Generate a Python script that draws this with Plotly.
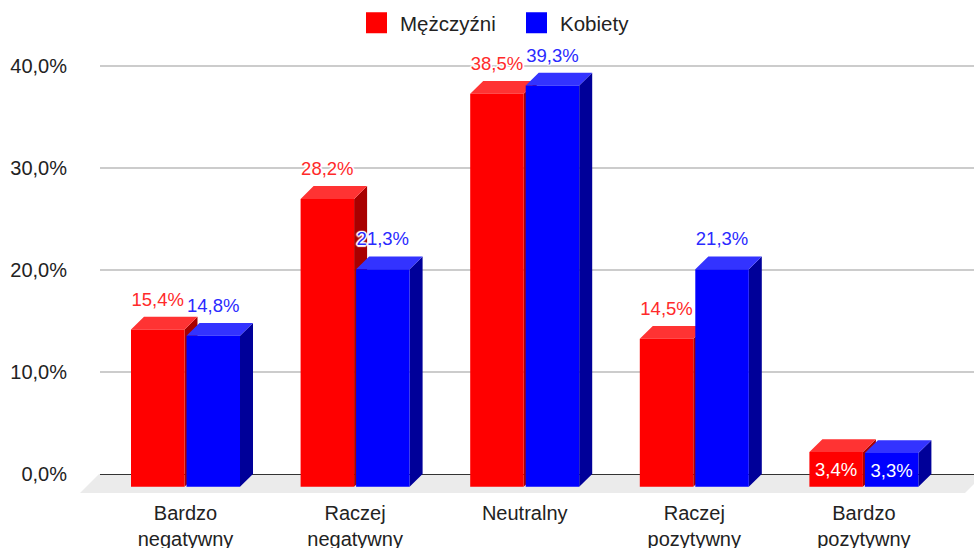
import plotly.graph_objects as go

categories = ["Bardzo<br>negatywny", "Raczej<br>negatywny", "Neutralny", "Raczej<br>pozytywny", "Bardzo<br>pozytywny"]
men = [15.4, 28.2, 38.5, 14.5, 3.4]
women = [14.8, 21.3, 39.3, 21.3, 3.3]
series_names = ["Mężczyźni", "Kobiety"]
y_ticks = [0, 10, 20, 30, 40]
y_tick_labels = ["0,0%", "10,0%", "20,0%", "30,0%", "40,0%"]

W, H = 974, 548
L, R, T, B = 100, 974, 40, 494
PX_Y = 10.21          # pixels per percentage point
PX_X = 169.6          # pixels per category
Y0 = 474
X0 = 185.5
yr = [-(B - Y0) / PX_Y, (Y0 - T) / PX_Y]
xr = [(L - X0) / PX_X, (R - X0) / PX_X]
dx = 13 / PX_X
dy = 12.8 / PX_Y
bw = 53.5 / PX_X
gap = 1.0 / PX_X
FONT = "Liberation Sans, Arial, sans-serif"


def faces(values, offset):
    side_x, side_y, top_x, top_y = [], [], [], []
    for i, v in enumerate(values):
        x0 = i + offset
        x1 = x0 + bw
        t = v - dy
        side_x += [x1, x1 + dx, x1 + dx, x1, x1, None]
        side_y += [-dy, 0, v, t, -dy, None]
        top_x += [x0, x0 + dx, x1 + dx, x1, x0, None]
        top_y += [t, v, v, t, t, None]
    return side_x, side_y, top_x, top_y


def px(x):
    return (x - L) / (R - L)


def py(y):
    return (B - y) / (B - T)


fig = go.Figure()

offs = [-bw - gap, gap]
for vals, off, side_c, top_c in [(men, offs[0], "#a80000", "#ff3333"), (women, offs[1], "#000099", "#3333ff")]:
    sx, sy, tx, ty = faces(vals, off)
    fig.add_trace(go.Scatter(x=sx, y=sy, mode="lines", line=dict(width=0), fill="toself",
                             fillcolor=side_c, showlegend=False, hoverinfo="skip"))
    fig.add_trace(go.Scatter(x=tx, y=ty, mode="lines", line=dict(width=0), fill="toself",
                             fillcolor=top_c, showlegend=False, hoverinfo="skip"))

# legend entries
for name, c in zip(series_names, ["#ff0000", "#0000ff"]):
    fig.add_trace(go.Scatter(x=[None], y=[None], mode="markers", name=name,
                             marker=dict(symbol="square", size=16, color=c, line=dict(width=5, color=c))))

# front faces on an overlaid subplot so they sit above the sides
for vals, off, c in [(men, offs[0], "#ff0000"), (women, offs[1], "#0000ff")]:
    fig.add_trace(go.Bar(x=list(range(len(vals))), y=vals, base=[-dy] * len(vals), width=bw, offset=off,
                         marker=dict(color=c, line=dict(width=0)), showlegend=False,
                         xaxis="x2", yaxis="y2"))

# data labels
halo = ", ".join(f"{a}px {b}px 1px #fff" for a, b in [(1, 1), (-1, -1), (1, -1), (-1, 1), (0, 1.5), (0, -1.5), (1.5, 0), (-1.5, 0)])
for vals, off, c in [(men, offs[0], "#ff2a2a"), (women, offs[1], "#2a2aff")]:
    above = [v >= 5 for v in vals]
    ys = [v + 15.8 / PX_Y if a else (v - 2 * dy) / 2 - 2 / PX_Y for v, a in zip(vals, above)]
    fig.add_trace(go.Scatter(
        x=[i + off + bw / 2 for i in range(len(vals))], y=ys, mode="text",
        text=[f"{v:.1f}%".replace(".", ",") for v in vals],
        textposition="middle center",
        textfont=dict(family=FONT, size=18.5, color=[c if a else "#ffffff" for a in above],
                      shadow=[halo if a else "none" for a in above]),
        cliponaxis=False, showlegend=False, hoverinfo="skip", xaxis="x2", yaxis="y2"))

fig.update_layout(
    width=W, height=H, autosize=False,
    margin=dict(l=L, r=W - R, t=T, b=H - B, pad=0, autoexpand=False),
    paper_bgcolor="#ffffff", plot_bgcolor="#ffffff",
    barmode="overlay",
    font=dict(family=FONT, size=18, color="#222222"),
    legend=dict(orientation="h", x=px(361 - 8), xanchor="left",
                y=py(23), yanchor="middle", font=dict(size=20.5, color="#222222"),
                itemwidth=37, entrywidth=108, entrywidthmode="pixels",
                bgcolor="rgba(0,0,0,0)", itemclick=False, itemdoubleclick=False),
    xaxis=dict(range=xr, tickmode="array", tickvals=list(range(len(categories))), ticktext=categories,
               automargin=False,
               showgrid=False, zeroline=False, showline=False, ticks="", ticklabelstandoff=5,
               tickfont=dict(size=20, color="#222222")),
    yaxis=dict(range=yr, tickmode="array", tickvals=y_ticks, ticktext=y_tick_labels, automargin=False,
               showgrid=True, gridcolor="#cccccc", gridwidth=1.5, zeroline=True, zerolinecolor="#333333",
               zerolinewidth=1, showline=False, ticks="", ticklabelstandoff=32,
               tickfont=dict(size=20, color="#222222")),
    xaxis2=dict(range=xr, overlaying="x", visible=False),
    yaxis2=dict(range=yr, overlaying="y", visible=False),
    shapes=[dict(type="path", xref="paper", yref="paper", layer="below", line=dict(width=0),
                 fillcolor="#ebebeb",
                 path=f"M {px(80)},{py(493)} L {px(99)},{py(474)} L {px(984)},{py(474)} L {px(965)},{py(493)} Z")],
)

fig.write_html("out.html", config={"displayModeBar": False},
               post_script="document.body.style.margin='0';document.documentElement.style.overflow='hidden';")
